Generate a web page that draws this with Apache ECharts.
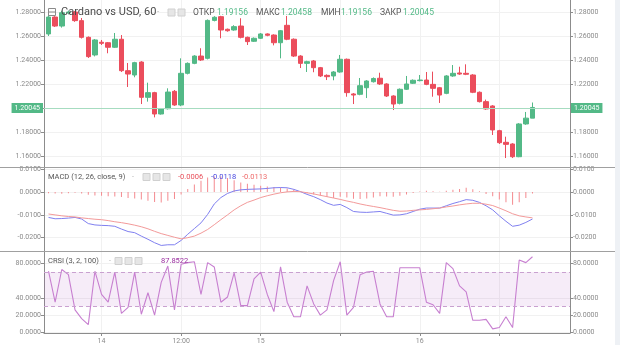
<!DOCTYPE html>
<html>
<head>
<meta charset="utf-8">
<script src="https://cdn.jsdelivr.net/npm/echarts@6/dist/echarts.min.js"></script>
<style>
  html, body { margin: 0; padding: 0; background: #fff; }
  #chart { width: 620px; height: 345px; }
</style>
</head>
<body>
<div id="chart"></div>
<script>
// Cardano vs USD, hourly candles with MACD and Connors RSI panes.

// ---- hourly OHLC ----
const openPx = [
  1.2617, 1.2758, 1.2683, 1.2794, 1.2800, 1.2728, 1.2589, 1.2442, 1.2548, 1.2544,
  1.2506, 1.2573, 1.2311, 1.2275, 1.2383, 1.2089, 1.2128, 1.1950, 1.1994, 1.2139,
  1.2025, 1.2289, 1.2372, 1.2433, 1.2414, 1.2730, 1.2761, 1.2656, 1.2650, 1.2683,
  1.2589, 1.2556, 1.2581, 1.2617, 1.2608, 1.2544, 1.2689, 1.2573, 1.2433, 1.2372,
  1.2392, 1.2336, 1.2272, 1.2267, 1.2300, 1.2406, 1.2117, 1.2114, 1.2169, 1.2219,
  1.2248, 1.2200, 1.2100, 1.2039, 1.2156, 1.2206, 1.2228, 1.2233, 1.2197, 1.2169,
  1.2122, 1.2267, 1.2292, 1.2289, 1.2275, 1.2131, 1.2053, 1.2017, 1.1811, 1.1714,
  1.1700, 1.1594, 1.1867, 1.19156
];
const closePx = [
  1.2758, 1.2683, 1.2794, 1.2800, 1.2728, 1.2589, 1.2428, 1.2567, 1.2539, 1.2506,
  1.2573, 1.2311, 1.2283, 1.2378, 1.2089, 1.2128, 1.1950, 1.1994, 1.2133, 1.2025,
  1.2289, 1.2372, 1.2433, 1.2400, 1.2730, 1.2756, 1.2650, 1.2644, 1.2678, 1.2589,
  1.2553, 1.2581, 1.2617, 1.2606, 1.2544, 1.2644, 1.2573, 1.2433, 1.2372, 1.2386,
  1.2336, 1.2267, 1.2261, 1.2300, 1.2406, 1.2128, 1.2108, 1.2186, 1.2225, 1.2246,
  1.2200, 1.2100, 1.2033, 1.2156, 1.2200, 1.2231, 1.2233, 1.2197, 1.2164, 1.2108,
  1.2267, 1.2289, 1.2283, 1.2281, 1.2131, 1.2053, 1.1992, 1.1817, 1.1711, 1.1697,
  1.1594, 1.1867, 1.19156, 1.20045
];
const lowPx = [
  1.2600, 1.2675, 1.2670, 1.2780, 1.2718, 1.2579, 1.2417, 1.2430, 1.2525, 1.2456,
  1.2500, 1.2300, 1.2175, 1.2256, 1.2033, 1.2053, 1.1922, 1.1945, 1.1988, 1.2018,
  1.2015, 1.2280, 1.2365, 1.2392, 1.2405, 1.2722, 1.2581, 1.2636, 1.2644, 1.2580,
  1.2525, 1.2550, 1.2575, 1.2598, 1.2522, 1.2414, 1.2565, 1.2425, 1.2333, 1.2300,
  1.2298, 1.2258, 1.2233, 1.2231, 1.2294, 1.2094, 1.2033, 1.2106, 1.2083, 1.2212,
  1.2192, 1.2092, 1.1983, 1.2030, 1.2150, 1.2200, 1.2222, 1.2190, 1.2094, 1.2042,
  1.2115, 1.2260, 1.2276, 1.2274, 1.2124, 1.2046, 1.1985, 1.1775, 1.1700, 1.1583,
  1.1583, 1.1590, 1.1860, 1.19156
];
const highPx = [
  1.2775, 1.2765, 1.2810, 1.2812, 1.2808, 1.2750, 1.2596, 1.2575, 1.2567, 1.2550,
  1.2625, 1.2608, 1.2375, 1.2385, 1.2390, 1.2211, 1.2135, 1.2000, 1.2164, 1.2150,
  1.2414, 1.2380, 1.2440, 1.2498, 1.2738, 1.2765, 1.2768, 1.2662, 1.2690, 1.2748,
  1.2595, 1.2588, 1.2625, 1.2622, 1.2614, 1.2650, 1.2767, 1.2580, 1.2440, 1.2394,
  1.2400, 1.2342, 1.2280, 1.2308, 1.2442, 1.2412, 1.2125, 1.2250, 1.2232, 1.2255,
  1.2294, 1.2206, 1.2106, 1.2163, 1.2267, 1.2238, 1.2275, 1.2300, 1.2303, 1.2175,
  1.2274, 1.2358, 1.2344, 1.2364, 1.2282, 1.2138, 1.2070, 1.2024, 1.1818, 1.1761,
  1.1707, 1.1874, 1.1967, 1.20458
];

// ---- MACD (12, 26, close, 9) ----
const macdHist = [
  -0.0005, -0.0006, -0.0007, -0.0005, -0.0003, -0.0006, -0.0012, -0.0015, -0.0016, -0.0018,
  -0.0019, -0.0022, -0.0026, -0.0028, -0.0032, -0.0038, -0.0043, -0.0046, -0.0038, -0.0030,
  -0.0010, 0.0014, 0.0033, 0.0050, 0.0064, 0.0068, 0.0068, 0.0062, 0.0052, 0.0042,
  0.0037, 0.0032, 0.0028, 0.0025, 0.0022, 0.0020, 0.0016, 0.0011, 0.0004, -0.0005,
  -0.0010, -0.0016, -0.0022, -0.0026, -0.0020, -0.0024, -0.0029, -0.0030, -0.0028, -0.0024,
  -0.0018, -0.0019, -0.0020, -0.0016, -0.0010, -0.0004, 0.0003, 0.0006, 0.0004, 0.0001,
  0.0006, 0.0010, 0.0014, 0.0019, 0.0013, 0.0004, -0.0008, -0.0018, -0.0032, -0.0044,
  -0.0055, -0.0044, -0.0026, -0.0006
];
const macdLine = [
  -0.0111, -0.0117, -0.0116, -0.0114, -0.0111, -0.0118, -0.0138, -0.0144, -0.0146, -0.0147,
  -0.0150, -0.0162, -0.0173, -0.0178, -0.0193, -0.0207, -0.0222, -0.0234, -0.0231, -0.0231,
  -0.0212, -0.0185, -0.0160, -0.0135, -0.0098, -0.0052, -0.0024, -0.0006, 0.0005, 0.0010,
  0.0012, 0.0013, 0.0014, 0.0016, 0.0019, 0.0020, 0.0019, 0.0012, 0.0002, -0.0010,
  -0.0020, -0.0033, -0.0048, -0.0058, -0.0054, -0.0068, -0.0085, -0.0088, -0.0089, -0.0087,
  -0.0085, -0.0093, -0.0101, -0.0100, -0.0095, -0.0085, -0.0075, -0.0070, -0.0070, -0.0070,
  -0.0060, -0.0050, -0.0042, -0.0033, -0.0036, -0.0045, -0.0060, -0.0078, -0.0104, -0.0128,
  -0.0150, -0.0145, -0.0133, -0.0118
];
const signalLine = [
  -0.0096, -0.0100, -0.0104, -0.0107, -0.0109, -0.0113, -0.0116, -0.0119, -0.0121, -0.0125,
  -0.0130, -0.0134, -0.0139, -0.0145, -0.0152, -0.0161, -0.0172, -0.0182, -0.0190, -0.0198,
  -0.0205, -0.0200, -0.0193, -0.0180, -0.0164, -0.0143, -0.0121, -0.0100, -0.0078, -0.0060,
  -0.0045, -0.0035, -0.0024, -0.0016, -0.0009, -0.0003, 0.0001, 0.0003, 0.0002, -0.0003,
  -0.0008, -0.0014, -0.0020, -0.0026, -0.0032, -0.0039, -0.0045, -0.0052, -0.0058, -0.0063,
  -0.0068, -0.0074, -0.0080, -0.0084, -0.0083, -0.0080, -0.0078, -0.0076, -0.0073, -0.0070,
  -0.0065, -0.0061, -0.0056, -0.0052, -0.0049, -0.0049, -0.0053, -0.0059, -0.0070, -0.0082,
  -0.0095, -0.0104, -0.0109, -0.0113
];

// ---- CRSI (3, 2, 100) ----
const crsi = [
  71, 35, 73, 67, 26, 16, 9, 71, 44, 35,
  70, 22, 29, 70, 21, 46, 20, 58, 77, 26,
  79, 81, 82, 44, 81, 76, 35, 41, 69, 31,
  31, 62, 70, 44, 24, 76, 35, 18, 18, 54,
  33, 20, 26, 60, 82, 20, 29, 67, 70, 71,
  33, 18, 18, 75, 75, 75, 75, 35, 32, 22,
  81, 74, 54, 47, 14, 14, 15, 4, 5.5, 18,
  5.5, 84, 81, 87.8522
];
const crsiBand = [30, 70];

// ---- axes ----
const timeTicks = [8, 20, 32, 44, 56, 68];
const timeLabelAt = [8, 20, 32, 56];
const timeLabels = ['14', '12:00', '15', '16'];
const priceTicks = [1.16, 1.18, 1.20, 1.22, 1.24, 1.26, 1.28];
const priceLabels = [1.16, 1.18, 1.22, 1.24, 1.26, 1.28];
const macdTicks = [-0.02, -0.01, 0, 0.01];
const crsiTicks = [0, 20, 40, 80];

const FONT = 'Roboto, sans-serif';
const UP = '#53b987', DOWN = '#eb4d5c';
const AXIS = '#8c8c8c', GRIDLINE = '#f1f1f1', LABEL = '#8a8a8a';
const X_MIN = -0.68, X_MAX = 78.66;
const lastIdx = closePx.length - 1;
const lastClose = closePx[lastIdx];

const ohlc = closePx.map((c, i) => [i, openPx[i], c, lowPx[i], highPx[i]]);
const pairs = arr => arr.map((v, i) => [i, v]);

function xAxisFor(grid, withLabels) {
  return {
    type: 'value', gridIndex: grid, min: X_MIN, max: X_MAX,
    axisLine: { show: withLabels, onZero: false, lineStyle: { color: AXIS } },
    axisTick: { show: withLabels, length: 3, customValues: timeTicks, lineStyle: { color: AXIS } },
    axisLabel: {
      show: withLabels, customValues: timeLabelAt, margin: 5,
      fontSize: 7, color: LABEL, fontFamily: FONT,
      formatter: v => { const k = timeLabelAt.indexOf(Math.round(v)); return k < 0 ? '' : timeLabels[k]; }
    },
    splitLine: { show: true, lineStyle: { color: GRIDLINE } }
  };
}

function yAxisFor(grid, pos, min, max, ticks, labels, digits) {
  return {
    type: 'value', gridIndex: grid, position: pos, min: min, max: max,
    axisLine: { show: true, onZero: false, lineStyle: { color: AXIS } },
    axisTick: { show: true, length: 3, customValues: ticks, lineStyle: { color: AXIS } },
    axisLabel: {
      customValues: labels, margin: 3, fontSize: 7, color: LABEL, fontFamily: FONT,
      formatter: v => v.toFixed(digits)
    },
    splitLine: { show: pos === 'left', lineStyle: { color: GRIDLINE } }
  };
}

const priceTag = pos => ({
  yAxis: lastClose,
  label: {
    show: true, position: pos, distance: 1, formatter: lastClose.toFixed(5),
    backgroundColor: UP, color: '#fff', fontSize: 7, fontFamily: FONT, padding: [2, 3, 1, 3]
  }
});

// header helpers
const txt = (x, y, text, fill, size) => ({
  type: 'text', x: x, y: y, z: 100, silent: true,
  style: { text: text, fill: fill, font: size + 'px ' + FONT, verticalAlign: 'middle' }
});
const box = (x, y) => ({
  type: 'rect', z: 100, silent: true, shape: { x: x, y: y, width: 7, height: 7 },
  style: { fill: '#e6e6e6', stroke: '#d0d0d0', lineWidth: 1 }
});

const chart = echarts.init(document.getElementById('chart'), null, { renderer: 'canvas' });
chart.setOption({
  animation: false,
  backgroundColor: '#ffffff',
  grid: [
    { left: 44, right: 50, top: 0, height: 167 },
    { left: 44, right: 50, top: 167, height: 84 },
    { left: 44, right: 50, top: 251, height: 82.5 }
  ],
  xAxis: [xAxisFor(0, false), xAxisFor(1, false), xAxisFor(2, true)],
  yAxis: [
    yAxisFor(0, 'left', 1.150833, 1.29, priceTicks, priceLabels, 5),
    yAxisFor(0, 'right', 1.150833, 1.29, priceTicks, priceLabels, 5),
    yAxisFor(1, 'left', -0.025833, 0.011009, macdTicks, macdTicks, 4),
    yAxisFor(1, 'right', -0.025833, 0.011009, macdTicks, macdTicks, 4),
    yAxisFor(2, 'left', -0.8, 94.5, crsiTicks, crsiTicks, 4),
    yAxisFor(2, 'right', -0.8, 94.5, crsiTicks, crsiTicks, 4)
  ],
  series: [
    {
      type: 'candlestick', xAxisIndex: 0, yAxisIndex: 0, data: ohlc, barWidth: 5,
      itemStyle: { color: UP, color0: DOWN, borderColor: UP, borderColor0: DOWN, borderWidth: 1 },
      markLine: {
        silent: true, symbol: ['none', 'none'], animation: false,
        lineStyle: { color: '#a6dcc0', width: 1, type: 'solid' },
        data: [priceTag('start'), priceTag('end')]
      }
    },
    {
      type: 'bar', xAxisIndex: 1, yAxisIndex: 2, data: pairs(macdHist), barWidth: 1,
      itemStyle: { color: '#f48a8f' }
    },
    {
      type: 'line', xAxisIndex: 1, yAxisIndex: 2, data: pairs(macdLine), showSymbol: false,
      lineStyle: { color: '#8080f0', width: 1 }
    },
    {
      type: 'line', xAxisIndex: 1, yAxisIndex: 2, data: pairs(signalLine), showSymbol: false,
      lineStyle: { color: '#f39a9a', width: 1 }
    },
    {
      type: 'line', xAxisIndex: 2, yAxisIndex: 4, data: pairs(crsi), showSymbol: false,
      lineStyle: { color: '#c77fd0', width: 1.1 },
      markArea: {
        silent: true,
        itemStyle: { color: 'rgba(156, 39, 176, 0.09)' },
        data: [[{ yAxis: crsiBand[0] }, { yAxis: crsiBand[1] }]]
      },
      markLine: {
        silent: true, symbol: ['none', 'none'], animation: false, label: { show: false },
        lineStyle: { color: '#c9a1d0', width: 1, type: [4, 3] },
        data: [{ yAxis: crsiBand[0] }, { yAxis: crsiBand[1] }]
      }
    }
  ],
  graphic: [
    // pane separators and the strip beside the price scale
    { type: 'line', z: 90, silent: true, shape: { x1: 0, y1: 167.5, x2: 615, y2: 167.5 }, style: { stroke: '#a0a0a0', lineWidth: 1 } },
    { type: 'line', z: 90, silent: true, shape: { x1: 0, y1: 251.5, x2: 615, y2: 251.5 }, style: { stroke: '#a0a0a0', lineWidth: 1 } },
    { type: 'rect', z: 90, silent: true, shape: { x: 615, y: 0, width: 5, height: 345 }, style: { fill: '#eef1f5' } },
    { type: 'rect', z: 90, silent: true, shape: { x: 0, y: 334.5, width: 42, height: 3 }, style: { fill: '#fff' } },
    { type: 'rect', z: 90, silent: true, shape: { x: 573, y: 334.5, width: 42, height: 3 }, style: { fill: '#fff' } },

    // price pane header
    { type: 'rect', z: 100, silent: true, shape: { x: 48.5, y: 8.5, width: 7, height: 7 }, style: { fill: 'none', stroke: '#8a8a8a', lineWidth: 1 } },
    { type: 'line', z: 100, silent: true, shape: { x1: 49, y1: 12, x2: 55, y2: 12 }, style: { stroke: '#8a8a8a', lineWidth: 1 } },
    txt(61, 12.5, 'Cardano vs USD, 60', '#4a4a4a', 11),
    txt(157, 12, '-', '#b0b0b0', 8),
    box(168, 9), box(178, 9),
    txt(193, 12.5, 'ОТКР', '#555', 8.5),
    txt(217, 12.5, openPx[lastIdx].toFixed(5), UP, 8.5),
    txt(256, 12.5, 'МАКС', '#555', 8.5),
    txt(281, 12.5, highPx[lastIdx].toFixed(5), UP, 8.5),
    txt(321, 12.5, 'МИН', '#555', 8.5),
    txt(341, 12.5, lowPx[lastIdx].toFixed(5), UP, 8.5),
    txt(380, 12.5, 'ЗАКР', '#555', 8.5),
    txt(403, 12.5, lastClose.toFixed(5), UP, 8.5),

    // MACD header
    txt(48, 177, 'MACD (12, 26, close, 9)', '#555', 7.5),
    txt(132, 177, '-', '#b0b0b0', 7),
    box(143, 173.5), box(153, 173.5), box(163, 173.5),
    txt(178, 177, macdHist[lastIdx].toFixed(4), '#e8505b', 7.5),
    txt(211, 177, macdLine[lastIdx].toFixed(4), '#4a4ae0', 7.5),
    txt(242, 177, signalLine[lastIdx].toFixed(4), '#ee6a6a', 7.5),

    // CRSI header
    txt(48, 261, 'CRSI (3, 2, 100)', '#555', 7.5),
    txt(109, 261, '-', '#b0b0b0', 7),
    box(115, 257.5), box(125, 257.5), box(135, 257.5),
    txt(161, 261, crsi[lastIdx].toFixed(4), '#9b2fa0', 7.5)
  ]
});
</script>
</body>
</html>
